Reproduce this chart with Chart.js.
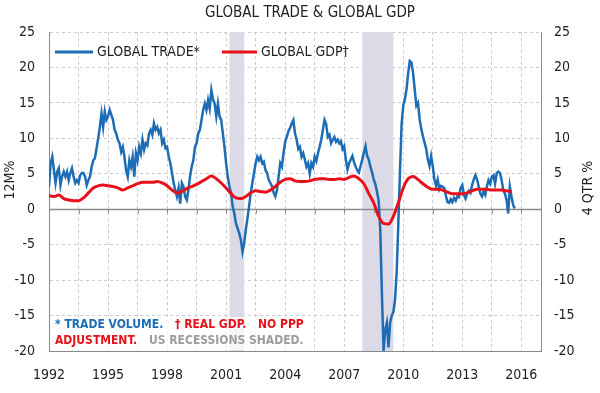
<!DOCTYPE html>
<html>
<head>
<meta charset="utf-8">
<script src="https://cdn.jsdelivr.net/npm/chart.js@4.4.0/dist/chart.umd.min.js"></script>
<style>
  html, body { margin: 0; padding: 0; background: #fff; }
</style>
</head>
<body>
<canvas id="c" width="600" height="393"></canvas>
<script>
// monthly trade volume, 12M % change, Jan 1992 - Sep 2015
const tradeStart = 1992;
const tradeVolume = [
  3.2, 6.5, 7.4, 5.5, 3.7, 5.3, 5.8, 3.4, 4.6, 5.3, 4.6, 5.3,
  4.1, 5.1, 5.8, 4.6, 3.7, 4.1, 3.7, 4.8, 5.1, 5.1, 4.6, 3.4,
  4.1, 4.6, 6.0, 6.9, 7.2, 8.6, 10.0, 11.6, 13.5, 11.6, 13.8, 12.6,
  13.1, 14.0, 13.3, 12.6, 11.2, 10.7, 9.8, 9.3, 8.1, 8.8, 7.4, 5.5,
  4.6, 6.9, 6.0, 7.4, 4.6, 7.9, 6.9, 8.8, 7.9, 9.8, 8.4, 9.3,
  9.0, 10.7, 11.2, 10.5, 12.1, 11.2, 11.6, 10.7, 11.2, 9.3, 9.8, 8.6,
  8.8, 7.4, 6.5, 5.1, 3.7, 2.7, 1.8, 3.0, 0.8, 3.7, 3.2, 1.8,
  1.3, 2.7, 4.6, 6.0, 6.9, 8.8, 9.3, 10.7, 11.2, 12.6, 14.0, 14.9,
  14.0, 15.4, 14.2, 16.8, 15.5, 14.9, 13.1, 14.9, 13.1, 12.6, 10.7, 8.8,
  6.5, 4.6, 3.2, 2.3, 0.4, -0.6, -2.0, -2.7, -3.4, -4.3, -6.0, -4.8,
  -2.9, -1.3, 0.4, 2.3, 3.7, 5.1, 6.5, 7.4, 6.9, 7.4, 6.5, 6.7,
  5.5, 5.1, 4.1, 3.7, 3.2, 2.3, 1.8, 2.7, 4.6, 6.5, 6.0, 7.9,
  9.5, 10.2, 11.0, 11.5, 12.1, 12.6, 10.7, 9.8, 8.5, 8.8, 7.4, 7.9,
  7.0, 6.0, 6.5, 5.0, 6.5, 6.0, 7.4, 6.8, 7.9, 8.8, 9.8, 11.2,
  12.6, 12.0, 10.2, 10.5, 9.3, 9.8, 10.2, 9.5, 9.8, 9.3, 9.6, 8.5,
  8.9, 7.0, 5.6, 6.5, 7.0, 7.5, 6.6, 6.0, 5.5, 5.2, 6.1, 7.0,
  8.0, 8.9, 7.5, 7.0, 6.0, 5.2, 4.2, 3.5, 2.5, 1.2, -3.0, -12.0,
  -20.0, -17.0, -16.0, -19.5, -16.0, -15.0, -14.5, -12.7, -8.9, -2.0, 5.2, 12.0,
  14.6, 15.5, 16.9, 19.2, 20.9, 20.7, 19.2, 16.9, 14.6, 15.0, 12.7, 11.3,
  10.3, 9.4, 8.5, 7.0, 6.1, 7.5, 6.1, 4.2, 3.3, 4.2, 2.8, 3.3,
  3.2, 3.0, 1.9, 1.0, 0.9, 1.4, 1.0, 1.6, 1.2, 1.8, 1.7, 3.0,
  3.4, 2.0, 1.5, 2.2, 2.6, 2.3, 3.4, 4.2, 4.8, 4.2, 3.2, 2.2,
  1.8, 2.5, 2.0, 3.2, 4.1, 3.6, 4.6, 4.8, 3.6, 5.1, 5.3, 5.1,
  4.1, 2.7, 2.2, 1.3, -0.6, 3.2, 1.8, 0.6, 0.1
];

// quarterly real GDP, 4 QTR % change, 1992Q1 - 2015Q3
const gdpStart = 1992;
const gdpGrowth = [
  1.9, 1.8, 2.0, 1.5,
  1.3, 1.2, 1.2, 1.6,
  2.3, 3.0, 3.3, 3.4,
  3.3, 3.2, 3.0, 2.7,
  3.0, 3.3, 3.6, 3.8,
  3.8, 3.8, 3.9, 3.7,
  3.3, 2.7, 2.3, 2.5,
  2.9, 3.2, 3.5, 3.9,
  4.3, 4.7, 4.3, 3.7,
  3.0, 2.2, 1.6, 1.5,
  1.8, 2.3, 2.6, 2.5,
  2.4, 2.7, 3.2, 3.8,
  4.2, 4.3, 4.0, 3.9,
  3.9, 4.0, 4.2, 4.3,
  4.3, 4.2, 4.2, 4.3,
  4.2, 4.5, 4.7, 4.3,
  3.6, 2.2, 0.9, -1.0,
  -2.0, -2.1, -1.0, 0.9,
  3.0, 4.3, 4.6, 4.2,
  3.6, 3.1, 2.8, 2.8,
  2.7, 2.4, 2.2, 2.2,
  2.2, 2.3, 2.6, 2.8,
  2.8, 2.8, 2.7, 2.7,
  2.7, 2.6, 2.5
];

const yearLabels = [1992, 1995, 1998, 2001, 2004, 2007, 2010, 2013, 2016];
const recessions = [[2001.17, 2001.92], [2007.92, 2009.5]];

const BLUE = '#1c6db5';
const RED = '#e8101a';
const GREY = '#9c9c9c';
const FONT = '"DejaVu Sans Condensed", "DejaVu Sans", sans-serif';

const tradePoints = tradeVolume.map((v, i) => ({ x: tradeStart + i / 12, y: v }));
const gdpPoints = gdpGrowth.map((v, i) => ({ x: gdpStart + i / 4, y: v }));

const decor = {
  id: 'decor',
  beforeDatasetsDraw(chart) {
    const { ctx, chartArea: a, scales: { x, y } } = chart;
    ctx.save();
    ctx.fillStyle = '#dddae8';
    recessions.forEach(([s, e]) => {
      const x0 = x.getPixelForValue(s), x1 = x.getPixelForValue(e);
      ctx.fillRect(x0, a.top, x1 - x0, a.bottom - a.top);
    });
    // zero line with small ticks
    const y0 = Math.round(y.getPixelForValue(0)) + 0.5;
    ctx.strokeStyle = '#8a8a8a';
    ctx.lineWidth = 1.5;
    ctx.beginPath(); ctx.moveTo(a.left, y0); ctx.lineTo(a.right, y0); ctx.stroke();
    ctx.lineWidth = 1;
    x.ticks.forEach(t => {
      const px = Math.round(x.getPixelForValue(t.value)) + 0.5;
      ctx.beginPath(); ctx.moveTo(px, y0); ctx.lineTo(px, y0 + 4); ctx.stroke();
    });
    ctx.restore();
  },
  afterDraw(chart) {
    const { ctx, chartArea: a } = chart;
    ctx.save();
    // title
    ctx.fillStyle = '#222';
    ctx.font = '15px ' + FONT;
    ctx.textAlign = 'center';
    ctx.textBaseline = 'middle';
    ctx.fillText('GLOBAL TRADE & GLOBAL GDP', 310, 13);

    // axis titles
    ctx.font = '14px ' + FONT;
    ctx.save(); ctx.translate(10, 180); ctx.rotate(-Math.PI / 2);
    ctx.fillText('12M%', 0, 0); ctx.restore();
    ctx.save(); ctx.translate(588, 188); ctx.rotate(-Math.PI / 2);
    ctx.fillText('4 QTR %', 0, 0); ctx.restore();

    // legend
    ctx.lineWidth = 3;
    ctx.strokeStyle = BLUE;
    ctx.beginPath(); ctx.moveTo(55, 52); ctx.lineTo(93, 52); ctx.stroke();
    ctx.strokeStyle = RED;
    ctx.beginPath(); ctx.moveTo(222, 52); ctx.lineTo(257, 52); ctx.stroke();
    ctx.font = '14px ' + FONT;
    ctx.textAlign = 'left';
    ctx.fillStyle = '#222';
    ctx.fillText('GLOBAL TRADE*', 97, 52);
    ctx.fillText('GLOBAL GDP\u2020', 261, 52);

    // note box
    ctx.fillStyle = 'rgba(255,255,255,0.72)';
    ctx.fillRect(a.left + 1, 317, 313 - a.left - 1, a.bottom - 317 - 1);
    ctx.font = 'bold 12px ' + FONT;
    ctx.fillStyle = BLUE; ctx.fillText('* TRADE VOLUME.', 55, 325);
    ctx.fillStyle = RED; ctx.fillText('\u2020 REAL GDP.', 175, 325);
    ctx.fillText('NO PPP', 258, 325);
    ctx.fillText('ADJUSTMENT.', 55, 341);
    ctx.fillStyle = GREY; ctx.fillText('US RECESSIONS SHADED.', 149, 341);
    ctx.restore();
  }
};

const gridDash = ctx => (ctx.tick ? [3, 3] : []);

new Chart(document.getElementById('c'), {
  type: 'line',
  data: {
    datasets: [
      {
        label: 'GLOBAL GDP\u2020',
        data: gdpPoints,
        borderColor: RED,
        borderWidth: 3,
        pointRadius: 0,
        cubicInterpolationMode: 'monotone',
        order: 0
      },
      {
        label: 'GLOBAL TRADE*',
        data: tradePoints,
        borderColor: BLUE,
        borderWidth: 2.5,
        pointRadius: 0,
        tension: 0,
        order: 1
      }
    ]
  },
  options: {
    responsive: false,
    animation: false,
    devicePixelRatio: 1,
    layout: { padding: { top: 32, left: 0, right: 0, bottom: 0 } },
    plugins: { legend: { display: false }, title: { display: false }, tooltip: { enabled: false } },
    scales: {
      x: {
        type: 'linear',
        min: 1992,
        max: 2017,
        afterBuildTicks: s => {
          const t = [];
          for (let v = 1992; v <= 2016; v += 1.5) t.push({ value: v });
          s.ticks = t;
        },
        afterFit: s => { s.height = 42; },
        ticks: {
          font: { family: FONT, size: 14 },
          color: '#222',
          padding: 16,
          maxRotation: 0,
          autoSkip: false,
          callback: v => (yearLabels.includes(v) ? String(v) : '')
        },
        grid: { color: '#cbcbd4', drawTicks: false },
        border: { color: '#8a8a8a', dash: gridDash }
      },
      y: {
        position: 'left',
        min: -20,
        max: 25,
        afterFit: s => { s.width = 49; },
        ticks: { stepSize: 5, font: { family: FONT, size: 14 }, color: '#222', padding: 14 },
        grid: {
          color: c => (c.tick && c.tick.value === 0 ? 'rgba(0,0,0,0)' : '#cbcbd4'),
          drawTicks: false
        },
        border: { color: '#8a8a8a', dash: gridDash }
      },
      y2: {
        position: 'right',
        min: -20,
        max: 25,
        afterFit: s => { s.width = 59; },
        ticks: { stepSize: 5, font: { family: FONT, size: 14 }, color: '#222', padding: 13 },
        grid: { drawOnChartArea: false, drawTicks: false },
        border: { color: '#8a8a8a' }
      }
    }
  },
  plugins: [decor]
});
</script>
</body>
</html>
